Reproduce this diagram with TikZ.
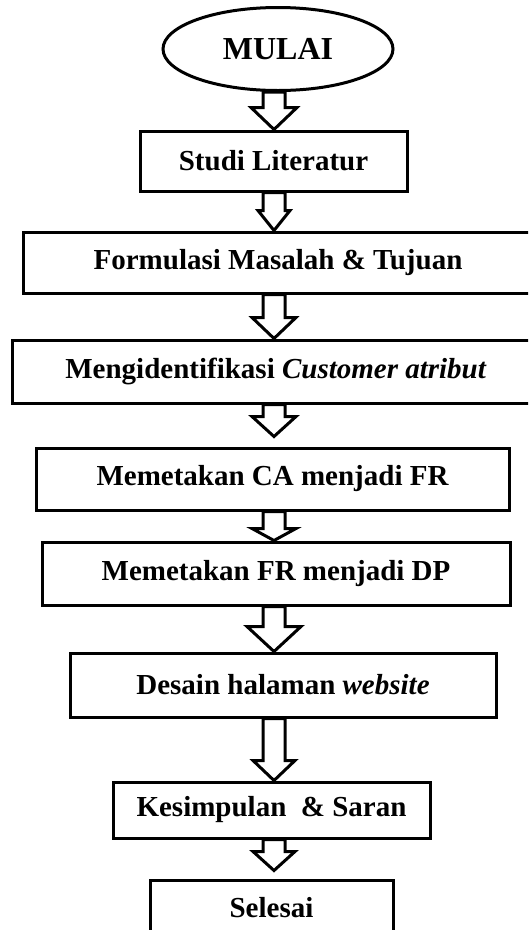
\documentclass[tikz,border=0pt]{standalone}
\usepackage{fontspec}
\setmainfont{Liberation Serif}
\usetikzlibrary{calc,shapes.geometric}

% panah blok berongga: [jarak]{dari}{ke}{setengah lebar kepala}{panjang kepala}
\def\ax{274pt}
\newcommand{\panah}[5][0]{%
  \draw[panah] let \p1=(#2.south), \p2=(#3.north) in
    (\ax-11pt,\y1) -- (\ax-11pt,\y2+#1pt+#5pt) -- (\ax-#4pt,\y2+#1pt+#5pt) -- (\ax,\y2+#1pt)
    -- (\ax+#4pt,\y2+#1pt+#5pt) -- (\ax+11pt,\y2+#1pt+#5pt) -- (\ax+11pt,\y1) -- cycle;}

\begin{document}
\begin{tikzpicture}[x=1pt,y=-1pt]
\tikzset{
  kotak/.style={draw, line width=3pt, fill=white, inner sep=0pt,
    font=\fontsize{29}{33}\selectfont\bfseries},
  panah/.style={draw, line width=3pt, fill=white, line join=miter}
}
  \clip (0,0) rectangle (528,930);

  % mulai
  \node[kotak, ellipse, minimum width=230pt, minimum height=83pt,
    font=\fontsize{32}{36}\selectfont\bfseries] (mulai) at (278,49) {MULAI};

  % langkah-langkah
  \node[kotak, minimum width=267pt, minimum height=60pt] (studi) at (273.5,161) {Studi Literatur};
  \node[kotak, minimum width=510pt, minimum height=61pt] (rumusan) at (278,262.5) {Formulasi Masalah \& Tujuan};
  \node[kotak, minimum width=528pt, minimum height=63pt] (identifikasi) at (276,371.5) {Mengidentifikasi \textit{Customer atribut}};
  \node[kotak, minimum width=473pt, minimum height=62pt] (petaCA) at (272.5,479) {Memetakan CA menjadi FR};
  \node[kotak, minimum width=468pt, minimum height=63pt] (petaFR) at (276,573.5) {Memetakan FR menjadi DP};
  \node[kotak, minimum width=426pt, minimum height=64pt] (desain) at (283,685) {Desain halaman \textit{website}};
  \node[kotak, minimum width=317pt, minimum height=56pt] (simpulan) at (271.5,810) {Kesimpulan~~\& Saran};
  \node[kotak, minimum width=243pt, minimum height=56pt] (selesai) at (271.5,908) {Selesai};

  % panah
  \panah{mulai}{studi}{23}{22}
  \panah{studi}{rumusan}{16}{20}
  \panah{rumusan}{identifikasi}{22}{21}
  \panah[10]{identifikasi}{petaCA}{22}{20}
  \panah{petaCA}{petaFR}{22}{12}
  \panah{petaFR}{desain}{27}{25}
  \panah{desain}{simpulan}{21}{20}
  \panah[8]{simpulan}{selesai}{21}{19}
\end{tikzpicture}
\end{document}
